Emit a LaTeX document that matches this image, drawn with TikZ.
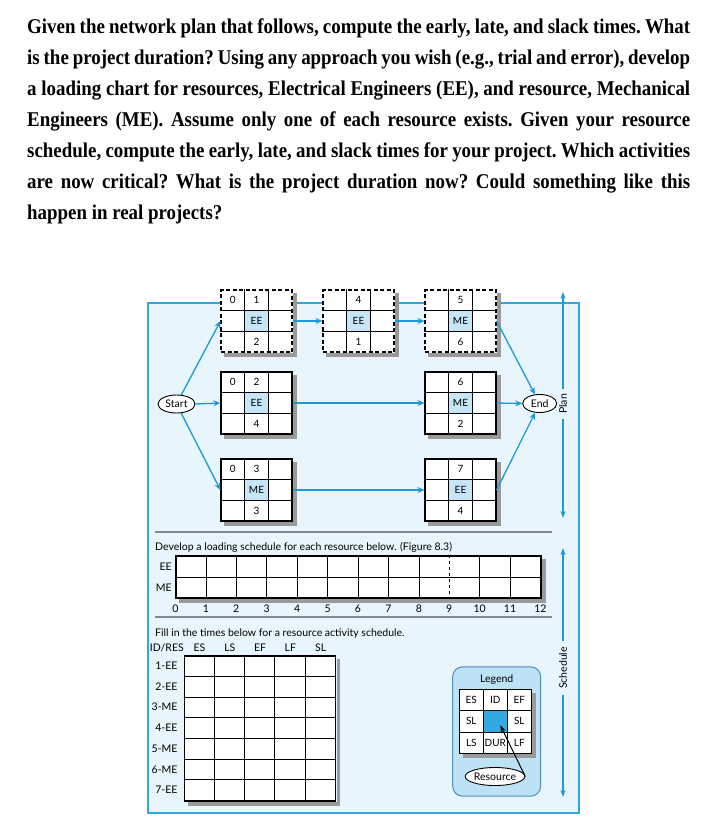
\documentclass[tikz,border=0pt]{standalone}
\usepackage{fontspec}
\setmainfont{Liberation Serif}
\newfontfamily\headfont{Liberation Serif}[FakeStretch=0.9]
\newfontfamily\figfont{Lato}
\usepackage{tikz}
\usetikzlibrary{arrows.meta,positioning,shapes.geometric,calc}
\definecolor{framefill}{HTML}{E8F5FC}
\definecolor{frameline}{HTML}{2FA8E0}
\definecolor{flowblue}{HTML}{1B9AD6}
\definecolor{cellblue}{HTML}{C6E6F7}
\definecolor{legendfill}{HTML}{BEE2F5}
\definecolor{legendline}{HTML}{4F8FB8}
\definecolor{legendcell}{HTML}{33A8E2}
\definecolor{shadowgray}{HTML}{9A9A9A}
\definecolor{rulegray}{HTML}{7F8A90}

% grey band right of and below a node
\newcommand{\castshadow}[1]{%
  \fill[shadowgray] ($(#1.north east)+(0.6,4)$) rectangle ($(#1.south east)+(4,4)$);
  \fill[shadowgray] ($(#1.south west)+(4,0.6)$) rectangle ($(#1.south east)+(4,4)$);
}
% one activity: name, centre, border style, ES, ID, resource, DUR
\newcommand{\netbox}[7]{%
  \node[netnode,#3] (#1) at (#2) {};
  \castshadow{#1}
  \fill[cellblue] ($(#1.center)+(-11.85,-10.35)$) rectangle ($(#1.center)+(11.85,10.35)$);
  \draw[gridline] ($(#1.north)+(-11.85,0)$) -- ($(#1.south)+(-11.85,0)$);
  \draw[gridline] ($(#1.north)+(11.85,0)$) -- ($(#1.south)+(11.85,0)$);
  \draw[gridline] ($(#1.west)+(0,-10.35)$) -- ($(#1.east)+(0,-10.35)$);
  \draw[gridline] ($(#1.west)+(0,10.35)$) -- ($(#1.east)+(0,10.35)$);
  \node[celltext] (#1es) at ($(#1.center)+(-23.7,-20.7)$) {#4};
  \node[celltext] (#1id) at ($(#1.center)+(0,-20.7)$) {#5};
  \node[celltext] (#1res) at (#1.center) {#6};
  \node[celltext] (#1dur) at ($(#1.center)+(0,20.7)$) {#7};
}

\begin{document}
\begin{tikzpicture}[x=1pt,y=-1pt,font=\figfont\fontsize{10.5}{12}\selectfont,
   netnode/.style={draw,line width=1.1pt,fill=white,minimum width=71pt,minimum height=62pt,
                   inner sep=0pt},
   planned/.style={dash pattern=on 4pt off 2.5pt},
   gridline/.style={line width=0.6pt},
   celltext/.style={inner sep=0pt,font=\figfont\fontsize{10}{11}\selectfont},
   terminal/.style={ellipse,draw,fill=white,line width=0.9pt,inner sep=0pt,minimum height=18pt},
   flow/.style={flowblue,line width=1.3pt,-{Stealth[length=7pt,width=6pt]}},
   span/.style={flowblue,line width=1.3pt,-{Stealth[length=7pt,width=5pt]}},
   sheet/.style={draw,line width=1.1pt,fill=white,inner sep=0pt}]
  \useasboundingbox (0,0) rectangle (715,826);

  \node[anchor=north west,inner sep=0pt,text width=663pt,align=justify,
        font=\headfont\bfseries\fontsize{21}{31}\selectfont\frenchspacing] (question) at (27,19)
    {Given the network plan that follows, compute the early, late, and slack times. What\linebreak
     is the project duration? Using any approach you wish (e.g., trial and error), develop\linebreak
     a loading chart for resources, Electrical Engineers (EE), and resource, Mechanical\linebreak
     Engineers (ME). Assume only one of each resource exists. Given your resource\linebreak
     schedule, compute the early, late, and slack times for your project. Which activities\linebreak
     are now critical? What is the project duration now? Could something like this\linebreak
     happen in real projects?};

  \draw[frameline,fill=framefill,line width=1.3pt] (148,303) rectangle (579,813);

  % network plan
  \netbox{a1}{256.5,321}{planned}{0}{1}{EE}{2}
  \netbox{a4}{358.5,321}{planned}{}{4}{EE}{1}
  \netbox{a5}{460.5,321}{planned}{}{5}{ME}{6}
  \netbox{a2}{256.5,403}{}{0}{2}{EE}{4}
  \netbox{a6}{460.5,403}{}{}{6}{ME}{2}
  \netbox{a3}{256.5,490}{}{0}{3}{ME}{3}
  \netbox{a7}{460.5,490}{}{}{7}{EE}{4}
  \node[terminal,minimum width=37pt] (start) at (176.5,404) {Start};
  \node[terminal,minimum width=34pt] (end) at (539.7,403.5) {End};
  \draw[flow] (start) -- (a1.west);
  \draw[flow] (start.east) -- (a2.west);
  \draw[flow] (start) -- (a3.west);
  \draw[flow] (a1.east) -- (a4.west);
  \draw[flow] (a4.east) -- (a5.west);
  \draw[flow] (a2.east) -- (a6.west);
  \draw[flow] (a3.east) -- (a7.west);
  \draw[flow] (a5.east) -- (end);
  \draw[flow] (a6.east) -- (end.west);
  \draw[flow] (a7.east) -- (end);

  \node[rotate=90,inner sep=5pt] (plan) at (563,404) {Plan};
  \coordinate (plantop) at (563,292);
  \coordinate (planbot) at (563,518);
  \draw[span] (plan) -- (plantop);
  \draw[span] (plan) -- (planbot);
  \node[rotate=90,inner sep=6pt] (sched) at (563,668) {Schedule};
  \coordinate (schedtop) at (563,548);
  \coordinate (schedbot) at (563,797);
  \draw[span] (sched) -- (schedtop);
  \draw[span] (sched) -- (schedbot);

  % loading chart
  \draw[rulegray,line width=1.1pt] (155,532) -- (552,532);
  \draw[rulegray,line width=1.1pt] (155,617) -- (552,617);
  \node[anchor=west,inner sep=0pt] (devtxt) at (155,547)
    {Develop a loading schedule for each resource below. (Figure 8.3)};
  \node[sheet,minimum width=365pt,minimum height=42pt] (load) at (358.5,577) {};
  \castshadow{load}
  \foreach \i in {1,...,11} {
    \ifnum\i=9
      \draw[gridline,dashed] ($(load.north west)+(\i*30.42,0)$) -- ($(load.south west)+(\i*30.42,0)$);
    \else
      \draw[gridline] ($(load.north west)+(\i*30.42,0)$) -- ($(load.south west)+(\i*30.42,0)$);
    \fi
  }
  \draw[gridline] (load.west) -- (load.east);
  \node[anchor=east,inner sep=0pt] (ee) at (172,566.5) {EE};
  \node[anchor=east,inner sep=0pt] (me) at (172,587.5) {ME};
  \foreach \i in {0,...,12}
    \node[inner sep=0pt] (t\i) at ($(load.south west)+(\i*30.42,10.5)$) {\i};

  % resource schedule table
  \node[anchor=west,inner sep=0pt] (filltxt) at (155,634)
    {Fill in the times below for a resource activity schedule.};
  \node[sheet,minimum width=151.5pt,minimum height=145pt] (tbl) at (260,728.5) {};
  \castshadow{tbl}
  \foreach \i in {1,...,4}
    \draw[gridline] ($(tbl.north west)+(\i*30.3,0)$) -- ($(tbl.south west)+(\i*30.3,0)$);
  \foreach \j in {1,...,6}
    \draw[gridline] ($(tbl.north west)+(0,\j*20.7)$) -- ($(tbl.north east)+(0,\j*20.7)$);
  \node[anchor=east,inner sep=0pt] (hid) at (184,648) {ID/RES};
  \foreach \h [count=\k from 0] in {ES,LS,EF,LF,SL}
    \node[inner sep=0pt] (h\h) at (199.5+\k*30.3,648) {\h};
  \foreach \r [count=\k] in {1-EE,2-EE,3-ME,4-EE,5-ME,6-ME,7-EE}
    \node[anchor=east,inner sep=0pt] (r\k) at ($(tbl.north west)+(-6,\k*20.7-10.35)$) {\r};

  % legend
  \node[draw=legendline,fill=legendfill,rounded corners=10pt,line width=1pt,
        minimum width=88pt,minimum height=129.3pt] (legend) at (496.7,731.5) {};
  \node[inner sep=0pt] (legtitle) at (496.7,680) {Legend};
  \node[sheet,minimum width=72pt,minimum height=64pt] (lgrid) at (495.3,721.3) {};
  \castshadow{lgrid}
  \node[fill=legendcell,minimum width=24pt,minimum height=21.33pt,inner sep=0pt] (lcell) at (lgrid.center) {};
  \foreach \d in {-12,12} {
    \draw[gridline] ($(lgrid.north)+(\d,0)$) -- ($(lgrid.south)+(\d,0)$);
    \draw[gridline] ($(lgrid.west)+(0,\d*0.889)$) -- ($(lgrid.east)+(0,\d*0.889)$);
  }
  \foreach \t/\dx/\dy [count=\k] in {ES/-24/-21.33,ID/0/-21.33,EF/24/-21.33,SL/-24/0,
                                     SL/24/0,LS/-24/21.33,DUR/0/21.33,LF/24/21.33}
    \node[celltext] (lt\k) at ($(lgrid.center)+(\dx,\dy)$) {\t};
  \node[terminal,minimum width=57pt] (res) at (495,776.5) {Resource};
  \draw[line width=1pt,-{Stealth[length=7pt,width=5pt]}] (res.east) -- ($(lcell.center)+(5,4)$);
\end{tikzpicture}
\end{document}
